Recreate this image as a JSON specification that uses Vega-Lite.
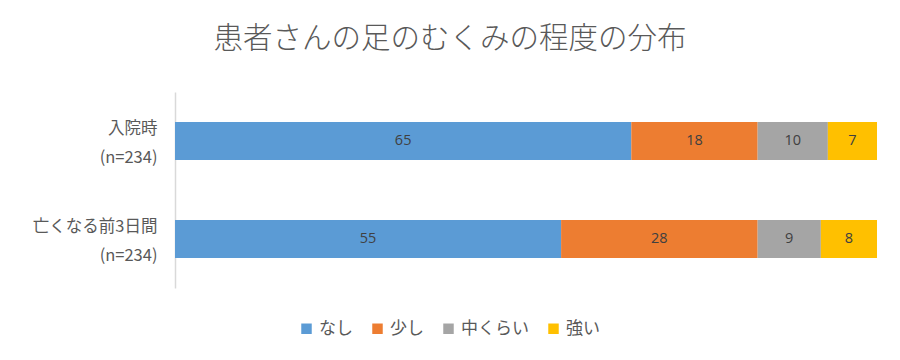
{
  "$schema": "https://vega.github.io/schema/vega-lite/v6.json",
  "autosize": {"type": "none"},
  "width": 702,
  "height": 196,
  "padding": {"left": 175, "top": 92, "right": 23, "bottom": 72},
  "background": "white",
  "title": {"text": "患者さんの足のむくみの程度の分布", "fontSize": 29.5, "font": "Noto Sans CJK JP", "fontWeight": 300, "color": "#595959", "anchor": "middle", "frame": "group", "dx": -76, "offset": 38},
  "data": {"values": [
    {"g": "入院時\n(n=234)", "c": "なし", "k": 1, "v": 65},
    {"g": "入院時\n(n=234)", "c": "少し", "k": 2, "v": 18},
    {"g": "入院時\n(n=234)", "c": "中くらい", "k": 3, "v": 10},
    {"g": "入院時\n(n=234)", "c": "強い", "k": 4, "v": 7},
    {"g": "亡くなる前3日間\n(n=234)", "c": "なし", "k": 1, "v": 55},
    {"g": "亡くなる前3日間\n(n=234)", "c": "少し", "k": 2, "v": 28},
    {"g": "亡くなる前3日間\n(n=234)", "c": "中くらい", "k": 3, "v": 9},
    {"g": "亡くなる前3日間\n(n=234)", "c": "強い", "k": 4, "v": 8}
  ]},
  "transform": [
    {"stack": "v", "groupby": ["g"], "sort": [{"field": "k", "order": "ascending"}], "as": ["v0", "v1"]},
    {"calculate": "(datum.v0 + datum.v1) / 2", "as": "mid"}
  ],
  "encoding": {
    "y": {
      "field": "g", "type": "nominal", "sort": null,
      "scale": {"paddingInner": 0.612, "paddingOuter": 0.306},
      "axis": {
        "title": null, "ticks": false, "labelExpr": "split(datum.label, '\\n')",
        "labelFontSize": 16.5, "labelFont": "Noto Sans CJK JP", "labelColor": "#595959",
        "labelLineHeight": 29, "labelPadding": 18, "labelOffset": -12, "domainColor": "#D9D9D9", "domainWidth": 1.5, "grid": false
      }
    }
  },
  "layer": [
    {
      "mark": {"type": "bar"},
      "encoding": {
        "x": {"field": "v0", "type": "quantitative", "scale": {"domain": [0, 100]}, "axis": null},
        "x2": {"field": "v1"},
        "color": {
          "field": "c", "type": "nominal",
          "scale": {"domain": ["なし", "少し", "中くらい", "強い"], "range": ["#5B9BD5", "#ED7D31", "#A5A5A5", "#FFC000"]},
          "legend": {
            "orient": "none", "legendX": 123, "legendY": 228, "direction": "horizontal", "title": null,
            "symbolType": "square", "symbolSize": 110, "symbolStrokeWidth": 0, "labelFontSize": 17,
            "labelFont": "Noto Sans CJK JP", "labelColor": "#595959", "columnPadding": 16, "labelOffset": 4
          }
        }
      }
    },
    {
      "mark": {"type": "text", "color": "#404040", "fontSize": 14.5, "font": "Open Sans"},
      "encoding": {
        "x": {"field": "mid", "type": "quantitative"},
        "text": {"field": "v", "type": "quantitative"}
      }
    }
  ],
  "config": {"view": {"stroke": null}}
}
